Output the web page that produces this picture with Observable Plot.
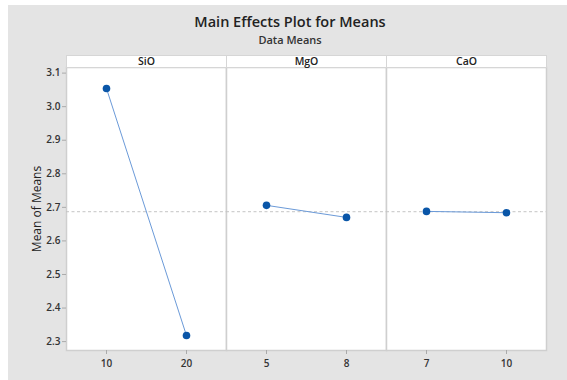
<!DOCTYPE html>
<html>
<head>
<meta charset="utf-8">
<script src="https://cdn.jsdelivr.net/npm/d3@7"></script>
<script src="https://cdn.jsdelivr.net/npm/@observablehq/plot@0.6"></script>
<style>
  html, body { margin: 0; padding: 0; background: #fff; }
  #wrap { margin-left: 8px; margin-top: 5px; width: 559px; height: 375px; background: #e4e4e4; font-family: "Open Sans", sans-serif; overflow: hidden; }
  #title { padding-top: 6px; padding-left: 5px; height: 22px; line-height: 22px; text-align: center; font-size: 14.5px; font-weight: 600; color: #222; }
  #subtitle { padding-left: 5px; height: 14px; line-height: 14px; text-align: center; font-size: 11px; font-weight: 600; color: #333; }
  #chart svg { display: block; }
</style>
</head>
<body>
<div id="wrap">
  <div id="title">Main Effects Plot for Means</div>
  <div id="subtitle">Data Means</div>
  <div id="chart"></div>
</div>
<script>
const factors = ["SiO", "MgO", "CaO"];
const levels = {SiO: ["10", "20"], MgO: ["5", "8"], CaO: ["7", "10"]};
const means = {SiO: [3.054, 2.318], MgO: [2.706, 2.670], CaO: [2.688, 2.684]};
const grandMean = 2.687;
const yTicks = [2.3, 2.4, 2.5, 2.6, 2.7, 2.8, 2.9, 3.0, 3.1];
const yDomain = [2.2735, 3.1167];

const rows = [];
for (const f of factors) {
  levels[f].forEach((lab, i) => rows.push({factor: f, pos: i, label: lab, mean: means[f][i]}));
}

const chart = Plot.plot({
  width: 559,
  height: 333,
  marginLeft: 58,
  marginRight: 21,
  marginTop: 20,
  marginBottom: 30,
  style: {fontFamily: "Open Sans, sans-serif", fontSize: "10px", color: "#333", background: "transparent"},
  fx: {domain: factors, padding: 0, axis: null},
  x: {domain: [0, 1], type: "point", padding: 0.5, axis: null},
  y: {domain: yDomain, ticks: yTicks, tickFormat: ".1f", label: null, axis: null},
  marks: [
    Plot.frame({fill: "white", stroke: "#cfcfcf", strokeWidth: 1.5}),
    Plot.frame({fill: "white", stroke: "#d6d6d6", strokeWidth: 1, insetTop: -12, insetBottom: 283}),
    Plot.text(factors, {fx: d => d, text: d => d, frameAnchor: "top", dy: -10, fontSize: 10.5, fontWeight: 600, fill: "#222"}),
    Plot.ruleY([grandMean], {stroke: "#c4c4c4", strokeDasharray: "3,2.5", strokeWidth: 1}),
    Plot.line(rows, {fx: "factor", x: "pos", y: "mean", stroke: "#6b9ad8", strokeWidth: 1}),
    Plot.dot(rows, {fx: "factor", x: "pos", y: "mean", r: 3.8, fill: "#0a56a8", stroke: "none"}),
    Plot.axisY({ticks: yTicks, tickFormat: ".1f", tickSize: 4, tickPadding: 2, stroke: "#aaa", fill: "#333", fontWeight: 600, fontSize: 10,
      label: "Mean of Means", labelAnchor: "center", labelOffset: 34, labelArrow: "none"}),
    Plot.axisX({tickSize: 4, tickFormat: () => "", stroke: "#aaa", label: null}),
    Plot.text(rows, {fx: "factor", x: "pos", text: "label", frameAnchor: "bottom", dy: 16, fontWeight: 600, fontSize: 10, fill: "#333"})
  ]
});
document.getElementById("chart").appendChild(chart);
chart.querySelectorAll("text").forEach(t => {
  if (t.textContent.startsWith("Mean of Means")) {
    t.textContent = "Mean of Means";
    t.setAttribute("font-size", "12");
    t.setAttribute("font-weight", "normal");
    t.style.fontWeight = "normal";
    t.setAttribute("fill", "#222");
  }
});
</script>
</body>
</html>
